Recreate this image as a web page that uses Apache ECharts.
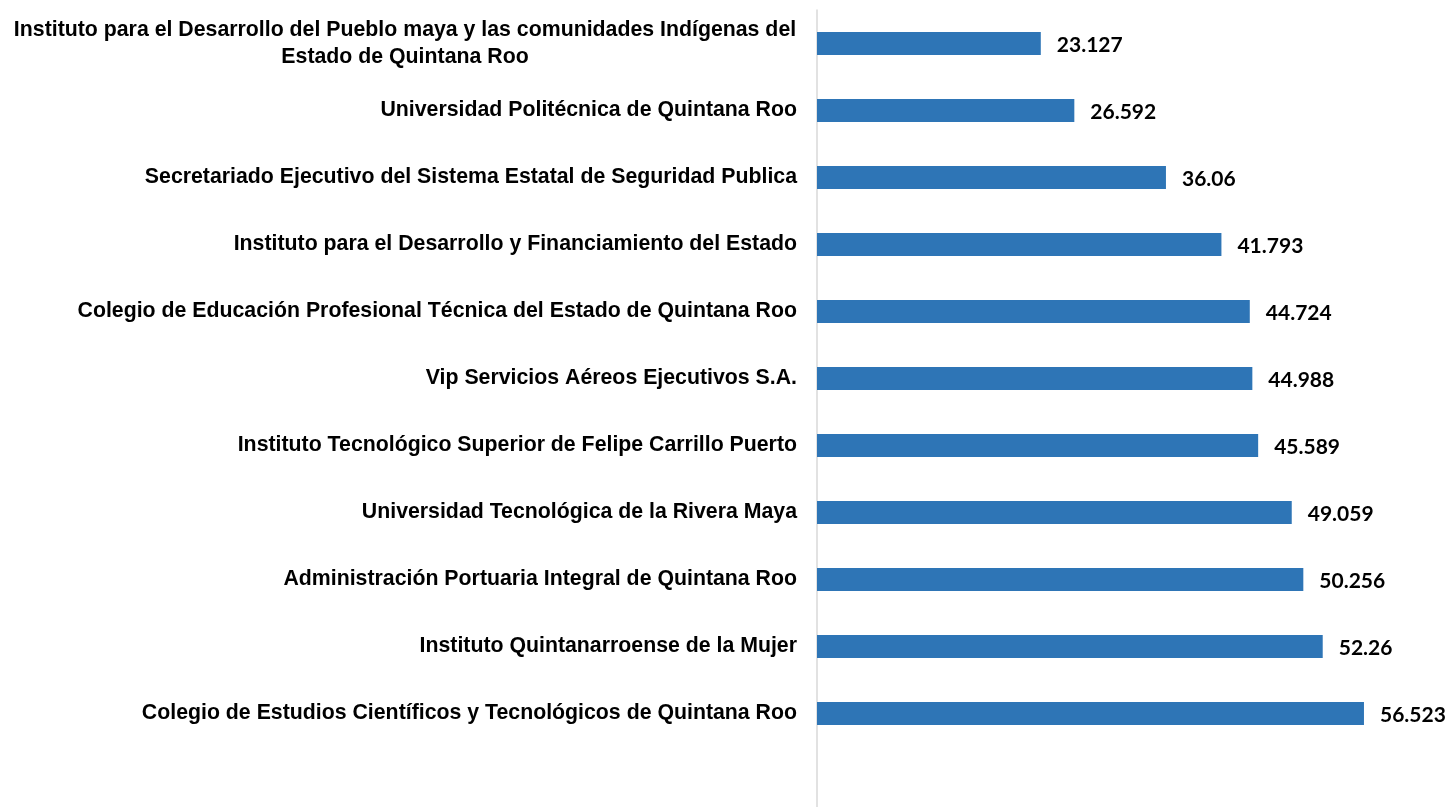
<!DOCTYPE html>
<html lang="es">
<head>
    <meta charset="UTF-8">
    <title>Organismos</title>
    <script src="https://cdn.jsdelivr.net/npm/echarts@6/dist/echarts.min.js"></script>
    <style>
        *{
            padding:0;
            margin:0;
        }
        html,body{
            height:100%;
            background:#fff;
        }
        #main{
            width:1449px;
            height:807px;
        }
    </style>
</head>
<body>
<div id="main"></div>
<script>
    // categorias de arriba hacia abajo
    var nombres = [
        'Instituto para el Desarrollo del Pueblo maya y las comunidades Indígenas del\nEstado de Quintana Roo',
        'Universidad Politécnica de Quintana Roo',
        'Secretariado Ejecutivo del Sistema Estatal de Seguridad Publica',
        'Instituto para el Desarrollo y Financiamiento del Estado',
        'Colegio de Educación Profesional Técnica del Estado de Quintana Roo',
        'Vip Servicios Aéreos Ejecutivos S.A.',
        'Instituto Tecnológico Superior de Felipe Carrillo Puerto',
        'Universidad Tecnológica de la Rivera Maya',
        'Administración Portuaria Integral de Quintana Roo',
        'Instituto Quintanarroense de la Mujer',
        'Colegio de Estudios Científicos y Tecnológicos de Quintana Roo'
    ];
    var valores = [23.127, 26.592, 36.06, 41.793, 44.724, 44.988, 45.589, 49.059, 50.256, 52.26, 56.523];

    var myChart = echarts.init(document.getElementById('main'));

    var option = {
        animation:false,
        grid:[
            {left:817, top:10, width:629, height:737},
            // solo para la linea del eje, que baja hasta el borde
            {left:817, top:10, width:629, bottom:0}
        ],
        xAxis:[
            {type:'value', min:0, max:65, show:false, gridIndex:0},
            {type:'value', min:0, max:65, show:false, gridIndex:1}
        ],
        yAxis:[
            {
                type:'category',
                gridIndex:0,
                inverse:true,
                data:nombres,
                axisLine:{show:false},
                axisTick:{show:false},
                axisLabel:{
                    margin:20,
                    color:'#000',
                    fontFamily:'Liberation Sans, Arial, sans-serif',
                    fontWeight:'bold',
                    fontSize:21.3,
                    lineHeight:27,
                    formatter:function(v){
                        if(v.indexOf('\n') < 0) return v;
                        return v.split('\n').map(function(l){ return '{c|' + l + '}'; }).join('\n');
                    },
                    rich:{
                        c:{
                            width:784,
                            align:'center',
                            fontFamily:'Liberation Sans, Arial, sans-serif',
                            fontWeight:'bold',
                            fontSize:21.3,
                            lineHeight:27,
                            color:'#000'
                        }
                    }
                }
            },
            {
                type:'value',
                gridIndex:1,
                axisLine:{show:true, lineStyle:{color:'#d9d9d9', width:1.5}},
                axisTick:{show:false},
                axisLabel:{show:false},
                splitLine:{show:false}
            }
        ],
        series:[
            {
                type:'bar',
                xAxisIndex:0,
                yAxisIndex:0,
                data:valores,
                barWidth:23,
                itemStyle:{color:'#2e75b6'},
                label:{
                    show:true,
                    position:'right',
                    distance:16,
                    offset:[0,2],
                    color:'#000',
                    fontFamily:'Lato, sans-serif',
                    fontWeight:'bold',
                    fontSize:21
                }
            }
        ]
    };
    myChart.setOption(option);
</script>
</body>
</html>
